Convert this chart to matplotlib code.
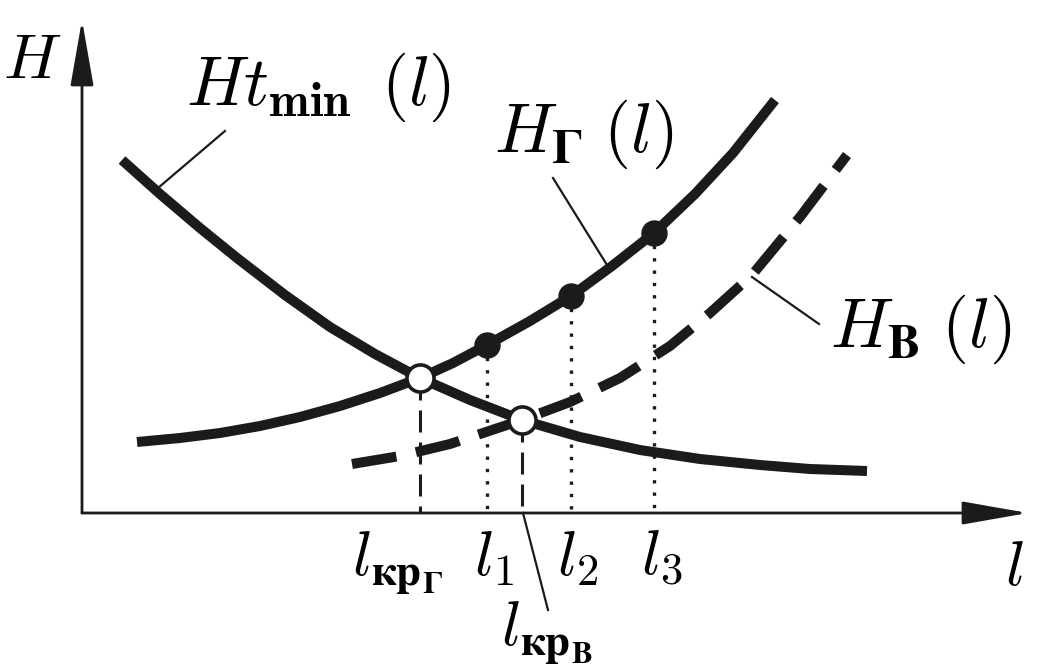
import matplotlib
matplotlib.use("Agg")
import matplotlib.pyplot as plt

plt.rcParams['mathtext.fontset'] = 'cm'

# curve samples (pixel-like units, y grows downward)
tmin_x = [122, 160, 200, 237, 285, 330, 375, 420, 470, 522, 580, 640, 700, 760, 810, 867]
tmin_y = [160, 194, 228, 258, 295, 327, 354, 378, 400, 420, 437, 450, 459, 465, 469, 471]

hg_x = [137, 180, 220, 260, 300, 340, 380, 420, 453, 487, 530, 571, 612, 654, 695, 733, 775]
hg_y = [442, 438, 433, 426, 417, 406, 393, 378, 363, 345, 321, 296, 266, 233, 194, 153, 100]

hv_x = [352, 400, 450, 522, 570, 620, 670, 710, 752, 800, 847]
hv_y = [464, 456, 444, 420, 402, 378, 346, 313, 275, 217, 155]

# critical points (open circles) and chosen points l1..l3 (filled)
crit_x = [420, 522]
crit_y = [378, 420]
pts_x = [487, 571, 654]
pts_y = [345, 296, 233]

axis_y0 = 513
axis_x0 = 82

fig = plt.figure(figsize=(10.46, 6.68), dpi=100)
ax = fig.add_axes([0, 0, 1, 1])
ax.set_xlim(0, 1046)
ax.set_ylim(668, 0)
ax.axis('off')

ink = '#1c1a1b'

# axes with arrows
arr = dict(arrowstyle='-|>,head_length=2.05,head_width=0.36', mutation_scale=20,
           lw=2, color=ink, shrinkA=0, shrinkB=0)
ax.annotate('', xy=(axis_x0, 20), xytext=(axis_x0, axis_y0), arrowprops=arr)
ax.annotate('', xy=(1028, axis_y0), xytext=(axis_x0, axis_y0), arrowprops=arr)

lw = 7.2
ax.plot(tmin_x, tmin_y, color=ink, lw=lw, solid_capstyle='butt', solid_joinstyle='round')
ax.plot(hg_x, hg_y, color=ink, lw=lw, solid_capstyle='butt', solid_joinstyle='round')
ax.plot(hv_x, hv_y, color=ink, lw=lw, dash_capstyle='butt',
        linestyle=(0, (45 * 0.72 / lw, 20 * 0.72 / lw)))

# drop lines to the l axis
for x, y in zip(crit_x, crit_y):
    ax.plot([x, x], [y, axis_y0], color=ink, lw=2.2, dash_capstyle='butt',
            linestyle=(0, (22 * 0.72 / 2.2, 10 * 0.72 / 2.2)))
for x, y in zip(pts_x, pts_y):
    ax.plot([x, x], [y, axis_y0], color=ink, lw=2.4, dash_capstyle='butt',
            linestyle=(0, (1, 2.7)))

ax.plot(pts_x, pts_y, 'o', ms=18, mfc=ink, mec=ink, mew=1)
ax.plot(crit_x, crit_y, 'o', ms=19.5, mfc='white', mec=ink, mew=2.6)

# leader lines
ax.plot([158, 225], [188, 131], color=ink, lw=1.6)
ax.plot([553, 607], [178, 265], color=ink, lw=1.6)
ax.plot([752, 819], [277, 324], color=ink, lw=1.6)
ax.plot([523, 548], [513, 610], color=ink, lw=1.6)

fs = 46
fs_big = 50
ax.text(3, 78, r'$H$', fontsize=fs, ha='left', va='baseline')
ax.text(1005, 585, r'$l$', fontsize=fs, ha='left', va='baseline')
ax.text(186, 105, r'$Ht_{\mathbf{min}}\;\,(l)$', fontsize=fs_big, ha='left', va='baseline')
ax.text(494, 152, r'$H_{\mathbf{Г}}\;(l)$', fontsize=fs_big, ha='left', va='baseline')
ax.text(830, 347, r'$H_{\mathbf{В}}\;(l)$', fontsize=fs_big, ha='left', va='baseline')

ax.text(352, 575, r'$l_{\mathbf{кр}_{\mathbf{Г}}}$', fontsize=fs, ha='left', va='baseline')
ax.text(474, 575, r'$l_1$', fontsize=fs, ha='left', va='baseline')
ax.text(557, 575, r'$l_2$', fontsize=fs, ha='left', va='baseline')
ax.text(641, 575, r'$l_3$', fontsize=fs, ha='left', va='baseline')
ax.text(501, 645, r'$l_{\mathbf{кр}_{\mathbf{В}}}$', fontsize=fs, ha='left', va='baseline')

fig.savefig('out.png', dpi=100)
